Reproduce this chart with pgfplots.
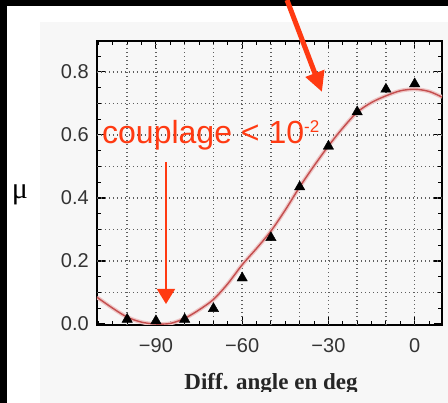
\documentclass[border=0pt]{standalone}
\usepackage{fontspec}
\setmainfont{Liberation Sans}
\newfontfamily\timesfont{Liberation Serif}
\usepackage{pgfplots}
\usepackage{pgfplotstable}
\pgfplotsset{compat=1.18}
\usetikzlibrary{arrows.meta}

\definecolor{fitred}{RGB}{196,78,78}
\definecolor{fithalo}{RGB}{238,198,198}
\definecolor{note}{RGB}{255,58,18}
\definecolor{panel}{RGB}{247,247,247}
\definecolor{gridgray}{RGB}{95,95,95}

% fitted curve
\pgfplotstableread{
x      mu
-110.5 0.085
-105   0.050
-100   0.022
-95    0.006
-90    0.000
-85    0.002
-80    0.018
-75    0.045
-70    0.078
-65    0.128
-60    0.188
-55    0.240
-50    0.295
-45    0.362
-40    0.435
-35    0.502
-30    0.565
-25    0.622
-20    0.672
-15    0.703
-10    0.724
-5     0.740
0      0.745
5      0.738
9.5    0.720
}\fitdata

% measured points
\pgfplotstableread{
x     mu
-100  0.015
-90   0.010
-80   0.015
-70   0.049
-60   0.146
-50   0.274
-40   0.435
-30   0.564
-20   0.673
-10   0.745
0     0.762
}\measdata

\begin{document}
\begin{tikzpicture}[x=1pt,y=1pt]
\path[use as bounding box] (0,0) rectangle (448,403);
\fill[white] (0,0) rectangle (448,403);
\fill[panel] (40,0) rectangle (448,381);

\begin{axis}[
  at={(97pt,78pt)}, anchor=south west,
  scale only axis, width=345pt, height=284pt,
  xmin=-110.5, xmax=9.5, ymin=-0.003, ymax=0.898,
  clip mode=individual,
  axis line style={line width=1.5pt},
  tick align=inside,
  every tick/.style={black, line width=1.1pt},
  major tick length=8pt, minor tick length=4pt,
  xtick={-90,-60,-30,0},
  xticklabels={−90,−60,−30,0},
  minor xtick={-110,-105,...,5},
  ytick={0,0.2,0.4,0.6,0.8},
  yticklabels={0.0,0.2,0.4,0.6,0.8},
  minor ytick={0.05,0.1,0.15,0.2,0.25,0.3,0.35,0.4,0.45,0.5,0.55,0.6,0.65,0.7,0.75,0.8,0.85},
  tick label style={font=\fontsize{20}{24}\selectfont, inner sep=0pt, text=black!80},
  every x tick label/.append style={anchor=north, yshift=-13pt},
  every y tick label/.append style={anchor=east, xshift=-8pt},
  extra x ticks={-100,-90,-80,-70,-60,-50,-40,-30,-20,-10,0},
  extra x tick labels={},
  extra y ticks={0.1,0.2,0.3,0.4,0.5,0.6,0.7,0.8},
  extra y tick labels={},
  extra tick style={grid=major, major tick length=0pt},
  major grid style={gridgray, line width=1.4pt, dash pattern=on 1.4pt off 2.6pt},
  xlabel={Diff. angle en deg},
  every axis x label/.style={at={(axis description cs:0.5,0)}, anchor=base,
    yshift=-65pt, xshift=1.5pt, font=\timesfont\bfseries\fontsize{23}{26}\selectfont, text=black!85},
  ylabel={μ},
  every axis y label/.style={at={(axis description cs:0,0.4437)}, anchor=base,
    xshift=-77pt, font=\timesfont\fontsize{30}{30}\selectfont},
]
\addplot[fithalo, line width=4pt, smooth] table[x=x, y=mu] {\fitdata};
\addplot[fitred, line width=1.4pt, smooth] table[x=x, y=mu] {\fitdata};
\addplot[only marks, mark=triangle*, mark size=6pt, black] table[x=x, y=mu] {\measdata};
\end{axis}

% lower edge of the slide cuts through the axis title
\fill[panel] (40,0) rectangle (448,11);
\fill[white] (7,0) rectangle (40,11);

% screen frame
\fill[black] (0,0) rectangle (7,403);
\fill[black] (0,397) rectangle (448,403);

% annotations
\node[anchor=base west, inner sep=0pt, text=note,
      font=\fontsize{32}{32}\selectfont] at (102,259)
  {couplage < 10\raisebox{11pt}{\fontsize{17}{17}\selectfont -2}};
\draw[note, line width=1.5pt, -{Triangle[width=18pt,length=15pt]}] (166,241) -- (166,99);
\draw[note, line width=5pt, -{Triangle[width=19pt,length=20pt]}] (287,403) -- (322,311);
\end{tikzpicture}
\end{document}
